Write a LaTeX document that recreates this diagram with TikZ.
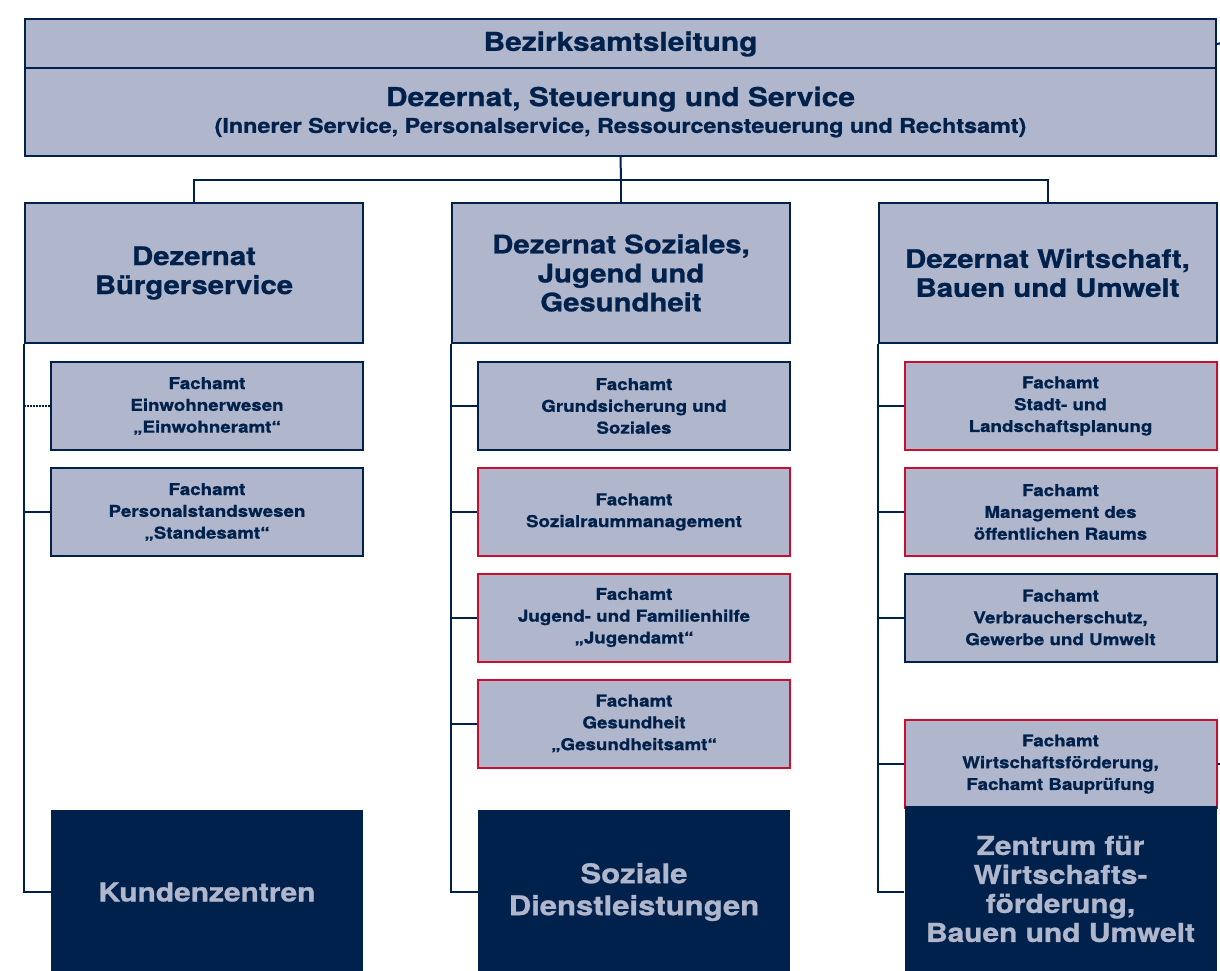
\documentclass[tikz,border=0pt]{standalone}
\usepackage{fontspec}
\setmainfont{TeX Gyre Heros}[FakeStretch=1.15,FakeBold=1]
\definecolor{navy}{HTML}{00214B}
\definecolor{pale}{HTML}{B0B6CB}
\definecolor{amtred}{HTML}{C8102E}
\begin{document}
\begin{tikzpicture}[x=1pt,y=-1pt,
    box/.style={draw=navy,fill=pale,line width=2pt,text=navy,align=center,inner sep=0pt},
    head/.style={box,minimum width=338pt,minimum height=140pt,font=\bfseries\fontsize{25.5}{29}\selectfont},
    amt/.style={box,minimum width=312pt,minimum height=88pt,font=\bfseries\fontsize{16.3}{21.8}\selectfont},
    redamt/.style={amt,draw=amtred},
    zentrum/.style={fill=navy,text=pale,minimum width=312pt,minimum height=164pt,align=center,inner sep=0pt,font=\bfseries\fontsize{26}{29}\selectfont},
    line/.style={draw=navy,line width=2pt}]
    \useasboundingbox (0,0) rectangle (1220,970);

    \node[box,minimum width=1191pt,minimum height=50pt,font=\bfseries\fontsize{26}{28}\selectfont] (leitung) at (620.5,44) {Bezirksamtsleitung};
    \node[box,minimum width=1191pt,minimum height=88pt,font=\bfseries] (steuerung) at (620.5,112) {{\fontsize{26}{28}\selectfont Dezernat, Steuerung und Service}\\[5pt]{\fontsize{20.3}{22}\selectfont (Innerer Service, Personalservice, Ressourcensteuerung und Rechtsamt)}};

    \node[head] (buerger) at (194,273) {Dezernat\\Bürgerservice};
    \node[head] (sozial) at (621,273) {Dezernat Soziales,\\Jugend und\\Gesundheit};
    \node[head] (wirtschaft) at (1047.5,273) {Dezernat Wirtschaft,\\Bauen und Umwelt};

    % Buergerservice
    \node[amt] (einwohner) at (207,406) {Fachamt\\Einwohnerwesen\\„Einwohneramt“};
    \node[amt] (standes) at (207,512) {Fachamt\\Personalstandswesen\\„Standesamt“};
    \node[zentrum] (kunden) at (207,892) {Kundenzentren};

    % Soziales, Jugend und Gesundheit
    \node[amt] (grundsich) at (634,406) {Fachamt\\Grundsicherung und\\Soziales};
    \node[redamt] (sozialraum) at (634,512) {Fachamt\\Sozialraummanagement};
    \node[redamt] (jugend) at (634,617.5) {Fachamt\\Jugend- und Familienhilfe\\„Jugendamt“};
    \node[redamt] (gesund) at (634,723.5) {Fachamt\\Gesundheit\\„Gesundheitsamt“};
    \node[zentrum,font=\bfseries\fontsize{27}{32}\selectfont] (dienste) at (634,892) {Soziale\\Dienstleistungen};

    % Wirtschaft, Bauen und Umwelt
    \node[redamt] (stadt) at (1060.5,406) {Fachamt\\Stadt- und\\Landschaftsplanung};
    \node[redamt] (raum) at (1060.5,512) {Fachamt\\Management des\\öffentlichen Raums};
    \node[amt] (verbraucher) at (1060.5,617.5) {Fachamt\\Verbraucherschutz,\\Gewerbe und Umwelt};
    \node[redamt] (wifoe) at (1060.5,764) {Fachamt\\Wirtschaftsförderung,\\Fachamt Bauprüfung};
    \node[zentrum,minimum height=166pt] (zentrum) at (1060.5,889) {Zentrum für\\Wirtschafts-\\förderung,\\Bauen und Umwelt};

    % lines
    \coordinate (bus) at (621,180);
    \draw[line] (steuerung.south) -- (bus);
    \draw[line] (buerger.north) |- (bus) -| (wirtschaft.north);
    \draw[line] (bus) -- (sozial.north);

    \draw[line] (buerger.south west) |- (kunden.west);
    \draw[line,densely dotted] (buerger.south west |- einwohner.west) -- (einwohner.west);
    \draw[line] (buerger.south west |- standes.west) -- (standes.west);

    \draw[line] (sozial.south west) |- (dienste.west);
    \draw[line] (sozial.south west |- grundsich.west) -- (grundsich.west);
    \draw[line] (sozial.south west |- sozialraum.west) -- (sozialraum.west);
    \draw[line] (sozial.south west |- jugend.west) -- (jugend.west);
    \draw[line] (sozial.south west |- gesund.west) -- (gesund.west);

    \draw[line] (wirtschaft.south west) |- (kunden.west -| zentrum.west);
    \draw[line] (wirtschaft.south west |- stadt.west) -- (stadt.west);
    \draw[line] (wirtschaft.south west |- raum.west) -- (raum.west);
    \draw[line] (wirtschaft.south west |- verbraucher.west) -- (verbraucher.west);
    \draw[line] (wirtschaft.south west |- wifoe.west) -- (wifoe.west);

    % stubs at the right edge
    \coordinate (rand1) at (1222,43);
    \coordinate (rand2) at (1222,764);
    \draw[line] (leitung.east) -- (rand1);
    \draw[line] (wifoe.east) -- (rand2);
\end{tikzpicture}
\end{document}
